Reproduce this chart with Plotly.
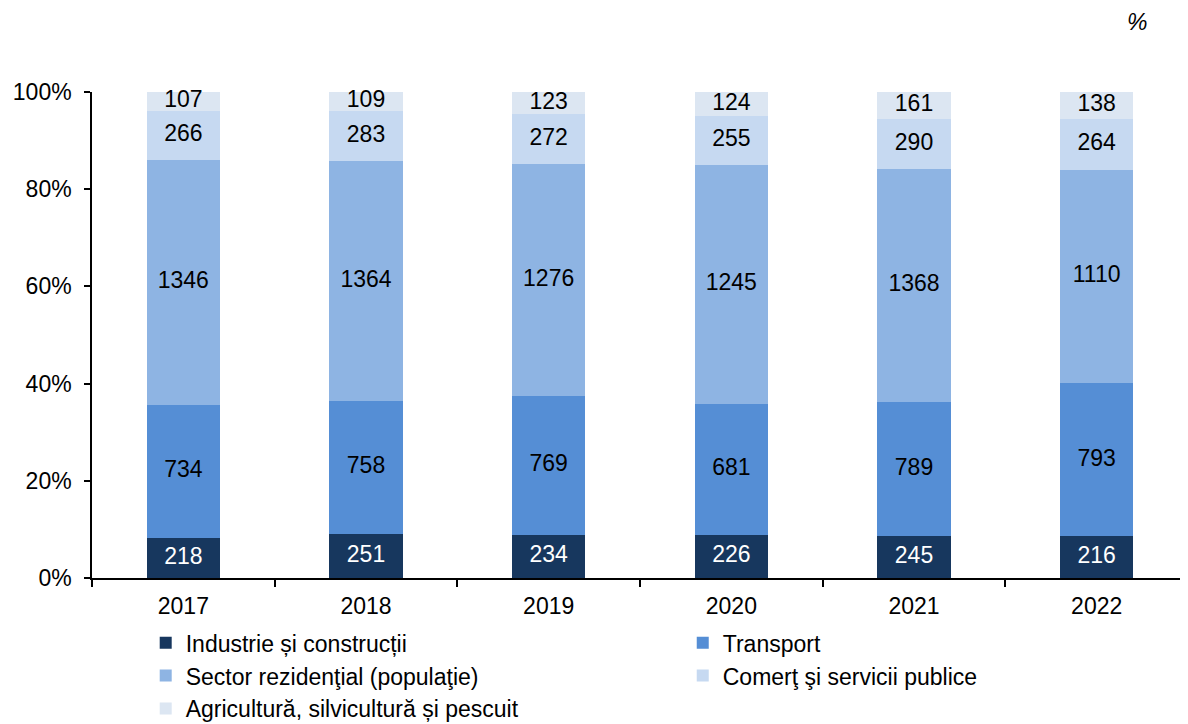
import plotly.graph_objects as go

YEARS = ["2017", "2018", "2019", "2020", "2021", "2022"]

INDUSTRIE = [218, 251, 234, 226, 245, 216]
TRANSPORT = [734, 758, 769, 681, 789, 793]
REZIDENTIAL = [1346, 1364, 1276, 1245, 1368, 1110]
COMERT = [266, 283, 272, 255, 290, 264]
AGRICULTURA = [107, 109, 123, 124, 161, 138]

Y_TICKS = [0, 20, 40, 60, 80, 100]
Y_TICK_TEXT = ["0%", "20%", "40%", "60%", "80%", "100%"]

# name, values, bar colour, label colour, legend column
SERIES = [
    ("Industrie și construcții", INDUSTRIE, "#17375E", "white", "legend"),
    ("Transport", TRANSPORT, "#558ED5", "black", "legend2"),
    ("Sector rezidenţial (populaţie)", REZIDENTIAL, "#8EB4E3", "black", "legend"),
    ("Comerţ şi servicii publice", COMERT, "#C6D9F1", "black", "legend2"),
    ("Agricultură, silvicultură și pescuit", AGRICULTURA, "#DCE6F2", "black", "legend"),
]

FONT = "Liberation Sans, Arial, sans-serif"
FS = 23

totals = [sum(s[1][i] for s in SERIES) for i in range(len(YEARS))]

fig = go.Figure()
base = [0.0] * len(YEARS)
for name, vals, color, txtcol, leg in SERIES:
    pct = [v / t * 100 for v, t in zip(vals, totals)]
    fig.add_trace(go.Bar(
        x=YEARS, y=pct, name=name, legend=leg, legendgroup=name,
        marker=dict(color=color, line=dict(width=0)),
        width=0.4, hoverinfo="skip",
    ))
    # value labels centred in each segment
    mids = [b + p / 2 for b, p in zip(base, pct)]
    fig.add_trace(go.Scatter(
        x=YEARS, y=mids, mode="text",
        text=[str(v) for v in vals],
        textfont=dict(family=FONT, size=FS, color=txtcol),
        showlegend=False, hoverinfo="skip", cliponaxis=False,
    ))
    base = [b + p for b, p in zip(base, pct)]

fig.add_annotation(
    text="<i>%</i>", xref="paper", yref="paper", x=0.9535, y=1.144,
    xanchor="center", yanchor="middle",
    showarrow=False, font=dict(family=FONT, size=FS, color="black"),
)

legend_style = dict(
    orientation="v", yanchor="top", xanchor="left",
    font=dict(family=FONT, size=FS, color="black"),
    bgcolor="rgba(0,0,0,0)", tracegroupgap=0, itemwidth=30,
)

fig.update_layout(
    barmode="stack",
    width=1180, height=716,
    paper_bgcolor="white", plot_bgcolor="white",
    font=dict(family=FONT, size=FS, color="black"),
    margin=dict(l=84, r=0, t=84, b=146, autoexpand=False),
    showlegend=True,
    legend=dict(x=0.049, y=-0.089, **legend_style),
    legend2=dict(x=0.539, y=-0.089, **legend_style),
)
fig.update_yaxes(
    range=[0, 100], tickmode="array", tickvals=Y_TICKS, ticktext=Y_TICK_TEXT,
    showgrid=False, zeroline=False, showline=True, linecolor="black", linewidth=1.5,
    ticks="outside", ticklen=6, tickcolor="black", tickwidth=1.5,
    ticklabelstandoff=8, tickfont=dict(family=FONT, size=FS, color="black"),
)
fig.update_xaxes(
    showgrid=False, showline=True, linecolor="black", linewidth=1.5,
    ticks="outside", tickson="boundaries", ticklen=7, tickcolor="black", tickwidth=1.5,
    ticklabelstandoff=7, tickfont=dict(family=FONT, size=FS, color="black"),
)

fig.write_html("out.html")
